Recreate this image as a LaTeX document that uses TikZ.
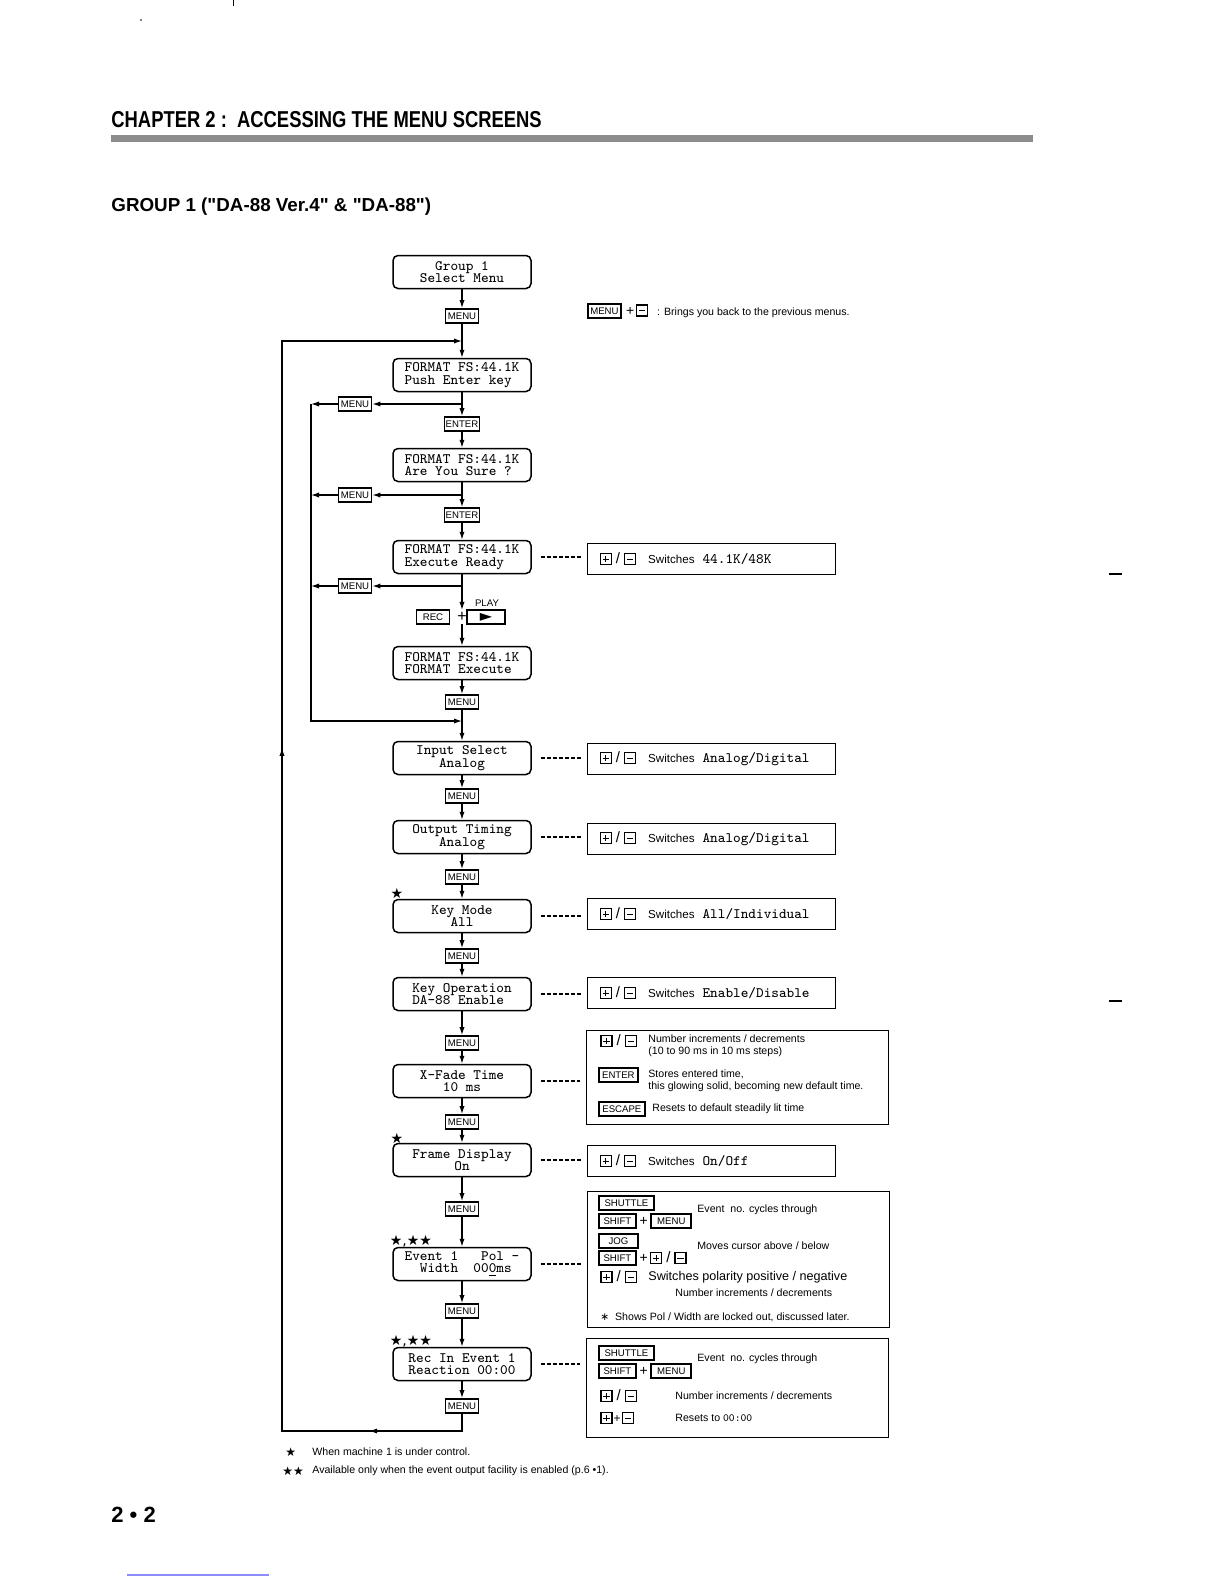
\documentclass[tikz,border=0pt]{standalone}
\usepackage{fontspec}
\setmainfont{Liberation Sans}[Ligatures=TeXOff]
\newfontfamily\symfont{DejaVu Sans}
\newfontfamily\condfont[FakeStretch=0.8]{Liberation Sans}
\usepackage{tikz}
\usetikzlibrary{arrows.meta,positioning,calc,decorations.markings}
\newcommand{\lcdfont}{\fontsize{7.2}{6.2}\selectfont\ttfamily}
\newcommand{\keyfont}{\fontsize{4.8}{5}\selectfont}
\newcommand{\notefont}{\fontsize{5.3}{6}\selectfont}
\newcommand{\swfont}{\fontsize{5.8}{7}\selectfont}
\newcommand{\sqbox}[1]{{\setlength\fboxsep{0pt}\setlength\fboxrule{0.65pt}\fbox{\makebox[4.8pt]{\rule{0pt}{4.8pt}#1}}}}
\newcommand{\mk}{\sqbox{\raisebox{2.15pt}{\rule{3.2pt}{0.5pt}}}}
\newcommand{\pk}{\sqbox{\makebox[0pt]{\raisebox{2.15pt}{\rule{3.2pt}{0.5pt}}}\makebox[0pt]{\raisebox{0.8pt}{\rule{0.5pt}{3.2pt}}}}}
\newcommand{\pmk}{\pk\hspace{2pt}{\fontsize{7.5}{7}\selectfont/}\hspace{2pt}\mk}

\begin{document}
\begin{tikzpicture}[x=0.5pt, y=-0.5pt,
  lcd/.style={draw,line width=0.75pt,rounded corners=2.5pt,minimum width=69pt,minimum height=16.5pt,inner sep=1pt,font=\lcdfont,align=center},
  key/.style={draw,line width=0.9pt,minimum width=16.5pt,minimum height=7pt,inner sep=0.6pt,font=\keyfont},
  rbox/.style={draw,line width=0.6pt,minimum height=15.5pt,text width=112pt,inner xsep=6pt,anchor=west,align=left,font=\swfont},
  bigbox/.style={draw,line width=0.6pt,minimum width=151pt,anchor=north west},
  txt/.style={anchor=west,inner sep=0pt,font=\notefont,align=left},
  arr/.style={-{Latex[length=4pt,width=2.6pt]},line width=0.6pt},
  dots/.style={line width=0.6pt,dash pattern=on 2pt off 1pt},
  midtips/.style={postaction={decorate},decoration={markings,
    mark=at position 0.075 with {\arrow{Latex[length=4pt,width=2.6pt]}},
    mark=at position 0.6 with {\arrow{Latex[length=4pt,width=2.6pt]}}}}
]
\useasboundingbox (0,0) rectangle (1225,1585);

% page heading
\node[anchor=west,inner sep=0pt,font=\condfont\bfseries\fontsize{11.5}{12}\selectfont] (title) at (111,120) {CHAPTER 2 :\ \ ACCESSING THE MENU SCREENS};
\fill[black!45] (111,135) rectangle (1033,142);
\node[anchor=west,inner sep=0pt,font=\bfseries\fontsize{9.4}{10}\selectfont] (group) at (111,207) {GROUP 1 ("DA-88 Ver.4" \& "DA-88")};

% main column
\node[lcd] (grp) at (462,272) {Group 1\\Select Menu};
\node[key] (k0) at (462,316) {MENU};
\node[lcd,align=left] (fmt1) at (462,375) {FORMAT FS:44.1K\\Push Enter key};
\node[key] (k1) at (462,424) {ENTER};
\node[lcd,align=left] (fmt2) at (462,465) {FORMAT FS:44.1K\\Are You Sure ?};
\node[key] (k2) at (462,515) {ENTER};
\node[lcd,align=left] (fmt3) at (462,557) {FORMAT FS:44.1K\\Execute Ready};
\node[font=\fontsize{8}{8}\selectfont,inner sep=1pt] (plus) at (462,617) {+};
\node[key] (rec) at (433,617) {REC};
\node[key,minimum width=19pt] (play) at (486,617) {\symfont\fontsize{8}{5}\selectfont ►};
\node[font=\keyfont,inner sep=0.5pt] (playlbl) at (487,603) {PLAY};
\node[lcd,align=left] (fmt4) at (462,663) {FORMAT FS:44.1K\\FORMAT Execute};
\node[key] (k3) at (462,702) {MENU};
\node[lcd] (inp) at (462,758) {Input Select\\Analog};
\node[key] (k4) at (462,796) {MENU};
\node[lcd] (outp) at (462,837) {Output Timing\\Analog};
\node[key] (k5) at (462,877) {MENU};
\node[lcd] (kmode) at (462,916) {Key Mode\\All};
\node[key] (k6) at (462,956) {MENU};
\node[lcd,align=left] (kop) at (462,994) {Key Operation\\DA-88 Enable};
\node[key] (k7) at (462,1043) {MENU};
\node[lcd] (xfade) at (462,1081) {X-Fade Time\\10 ms};
\node[key] (k8) at (462,1122) {MENU};
\node[lcd] (frame) at (462,1160) {Frame Display\\On};
\node[key] (k9) at (462,1209) {MENU};
\node[lcd,align=left] (event) at (462,1264) {Event~1~~~Pol~-\\~~Width~~00\underline{0}ms};
\node[key] (k10) at (462,1311) {MENU};
\node[lcd] (recin) at (462,1364) {Rec In Event 1\\Reaction 00:00};
\node[key] (k11) at (462,1406) {MENU};

% stars
\node[font=\symfont\fontsize{7}{7}\selectfont,inner sep=0pt] (st1) at (397,893) {★};
\node[font=\symfont\fontsize{7}{7}\selectfont,inner sep=0pt] (st2) at (397,1138) {★};
\node[font=\symfont\fontsize{7}{7}\selectfont,inner sep=0pt] (st3) at (411,1241) {★,★★};
\node[font=\symfont\fontsize{7}{7}\selectfont,inner sep=0pt] (st4) at (411,1341) {★,★★};

\draw[arr] (grp) -- (k0);
\draw[arr] (k0) -- (fmt1);
\draw[arr] (fmt1) -- (k1);
\draw[arr] (k1) -- (fmt2);
\draw[arr] (fmt2) -- (k2);
\draw[arr] (k2) -- (fmt3);
\draw[arr] (fmt3) -- (plus);
\draw[arr] (plus) -- (fmt4);
\draw[arr] (fmt4) -- (k3);
\draw[arr] (k3) -- (inp);
\draw[arr] (inp) -- (k4);
\draw[arr] (k4) -- (outp);
\draw[arr] (outp) -- (k5);
\draw[arr] (k5) -- (kmode);
\draw[arr] (kmode) -- (k6);
\draw[arr] (k6) -- (kop);
\draw[arr] (kop) -- (k7);
\draw[arr] (k7) -- (xfade);
\draw[arr] (xfade) -- (k8);
\draw[arr] (k8) -- (frame);
\draw[arr] (frame) -- (k9);
\draw[arr] (k9) -- (event);
\draw[arr] (event) -- (k10);
\draw[arr] (k10) -- (recin);
\draw[arr] (recin) -- (k11);

% back paths
\node[key] (m1) at (355,404) {MENU};
\node[key] (m2) at (355,495) {MENU};
\node[key] (m3) at (355,586) {MENU};
\coordinate (l1) at (311,404);
\coordinate (l2) at (311,495);
\coordinate (l3) at (311,586);
\coordinate (join1) at (462,341);
\coordinate (join2) at (462,721);
\coordinate (lb) at (282,1431);
\draw[arr] (fmt1 |- m1) -- (m1);
\draw[arr] (m1) -- (l1);
\draw[arr] (fmt2 |- m2) -- (m2);
\draw[arr] (m2) -- (l2);
\draw[arr] (fmt3 |- m3) -- (m3);
\draw[arr] (m3) -- (l3);
\draw[arr] (l1) |- (join2);
\draw[arr,midtips] (k11) |- (lb) -- (lb |- join1) -- (join1);

% notes on the right
\node[key,anchor=west] (nk) at (587,311) {MENU};
\node[anchor=west,inner sep=0pt,font=\notefont] (nt) at ([xshift=2pt]nk.east) {{\fontsize{7}{7}\selectfont+}\,\mk\ \ \ : Brings you back to the previous menus.};

\node[rbox] (rb1) at (587,559) {\pmk\hspace{6pt}Switches\hspace{4pt}{\lcdfont 44.1K/48K}};
\node[rbox] (rb2) at (587,759) {\pmk\hspace{6pt}Switches\hspace{4pt}{\lcdfont Analog/Digital}};
\node[rbox] (rb3) at (587,839) {\pmk\hspace{6pt}Switches\hspace{4pt}{\lcdfont Analog/Digital}};
\node[rbox] (rb4) at (587,914) {\pmk\hspace{6pt}Switches\hspace{4pt}{\lcdfont All/Individual}};
\node[rbox] (rb5) at (587,993) {\pmk\hspace{6pt}Switches\hspace{4pt}{\lcdfont Enable/Disable}};
\node[rbox] (rb7) at (587,1161) {\pmk\hspace{6pt}Switches\hspace{4pt}{\lcdfont On/Off}};

% x-fade box
\node[bigbox,minimum height=47pt] (rb6) at (586,1030) {};
\node[anchor=west,inner sep=0pt,font=\swfont] (xf1k) at (600,1041) {\pmk};
\node[txt] (xf1t) at (648,1046) {Number increments / decrements\\(10 to 90 ms in 10 ms steps)};
\node[key,anchor=west,minimum width=19.5pt] (xf2k) at (598,1075) {ENTER};
\node[txt] (xf2t) at (648,1081) {Stores entered time,\\this glowing solid, becoming new default time.};
\node[key,anchor=west,minimum width=23pt] (xf3k) at (598,1109) {ESCAPE};
\node[txt] (xf3t) at (652,1109) {Resets to default steadily lit time};

% event box
\node[bigbox,minimum height=68pt] (rb8) at (587,1191) {};
\node[key,anchor=west,minimum width=27.5pt] (ev1k) at (598,1203) {SHUTTLE};
\node[key,anchor=west,minimum width=18.5pt] (ev2k) at (598,1221) {SHIFT};
\node[anchor=west,inner sep=0pt,font=\fontsize{7}{7}\selectfont] (ev2p) at (ev2k.east) {\,+\,};
\node[key,anchor=west,minimum width=20pt] (ev2m) at (ev2p.east) {MENU};
\node[txt] (ev1t) at (697,1210) {Event\ \ no. cycles through};
\node[key,anchor=west,minimum width=19.5pt] (ev3k) at (598,1241) {JOG};
\node[key,anchor=west,minimum width=18.5pt] (ev4k) at (598,1258) {SHIFT};
\node[anchor=west,inner sep=0pt,font=\fontsize{7}{7}\selectfont] (ev4p) at (ev4k.east) {\,+\,\pmk};
\node[txt] (ev3t) at (697,1246) {Moves cursor above / below};
\node[anchor=west,inner sep=0pt,font=\swfont] (ev5k) at (600,1277) {\pmk};
\node[txt,font=\fontsize{6.3}{7}\selectfont] (ev5t) at (648,1277) {Switches polarity positive / negative};
\node[txt] (ev6t) at (675,1293) {Number increments / decrements};
\node[txt] (ev7t) at (600,1317) {{\symfont ∗}\ \ Shows Pol / Width are locked out, discussed later.};

% rec-in box
\node[bigbox,minimum height=49.5pt] (rb9) at (586,1338) {};
\node[key,anchor=west,minimum width=27.5pt] (rc1k) at (598,1353) {SHUTTLE};
\node[key,anchor=west,minimum width=18.5pt] (rc2k) at (598,1371) {SHIFT};
\node[anchor=west,inner sep=0pt,font=\fontsize{7}{7}\selectfont] (rc2p) at (rc2k.east) {\,+\,};
\node[key,anchor=west,minimum width=20pt] (rc2m) at (rc2p.east) {MENU};
\node[txt] (rc1t) at (697,1359) {Event\ \ no. cycles through};
\node[anchor=west,inner sep=0pt,font=\swfont] (rc3k) at (600,1396) {\pmk};
\node[txt] (rc3t) at (675,1396) {Number increments / decrements};
\node[anchor=west,inner sep=0pt,font=\fontsize{6}{6}\selectfont] (rc4k) at (600,1418) {\pk\hspace{0.5pt}+\hspace{0.5pt}\mk};
\node[txt] (rc4t) at (675,1418) {Resets to {\fontsize{5.5}{6}\selectfont\ttfamily 00:00}};

% dotted leaders
\draw[dots] ($(fmt3.east)+(9,0)$) -- ($(fmt3.east -| rb1.west)+(-6,0)$);
\draw[dots] ($(inp.east)+(9,0)$) -- ($(inp.east -| rb2.west)+(-6,0)$);
\draw[dots] ($(outp.east)+(9,0)$) -- ($(outp.east -| rb3.west)+(-6,0)$);
\draw[dots] ($(kmode.east)+(9,0)$) -- ($(kmode.east -| rb4.west)+(-6,0)$);
\draw[dots] ($(kop.east)+(9,0)$) -- ($(kop.east -| rb5.west)+(-6,0)$);
\draw[dots] ($(xfade.east)+(9,0)$) -- ($(xfade.east -| rb6.west)+(-6,0)$);
\draw[dots] ($(frame.east)+(9,0)$) -- ($(frame.east -| rb7.west)+(-6,0)$);
\draw[dots] ($(event.east)+(9,0)$) -- ($(event.east -| rb8.west)+(-6,0)$);
\draw[dots] ($(recin.east)+(9,0)$) -- ($(recin.east -| rb9.west)+(-6,0)$);

% footnotes
\node[txt,font=\symfont\fontsize{6}{6}\selectfont] (fs1) at (285,1452) {★};
\node[txt] (fn1) at (312,1452) {When machine 1 is under control.};
\node[txt,font=\symfont\fontsize{6}{6}\selectfont] (fs2) at (282,1471) {★★};
\node[txt] (fn2) at (312,1471) {Available only when the event output facility is enabled (p.6 •1).};

% page marks
\node[anchor=west,inner sep=0pt,font=\bfseries\fontsize{11}{12}\selectfont] (pageno) at (111,1515) {2 • 2};
\draw[line width=1pt] (1109,574) -- (1122,574);
\draw[line width=1pt] (1109,1001) -- (1122,1001);
\draw[line width=0.5pt] (233,0) -- (233,6);
\fill (141,20) circle (0.8);
\draw[blue!45,line width=0.8pt] (127,1575) -- (269,1575);
\end{tikzpicture}
\end{document}
